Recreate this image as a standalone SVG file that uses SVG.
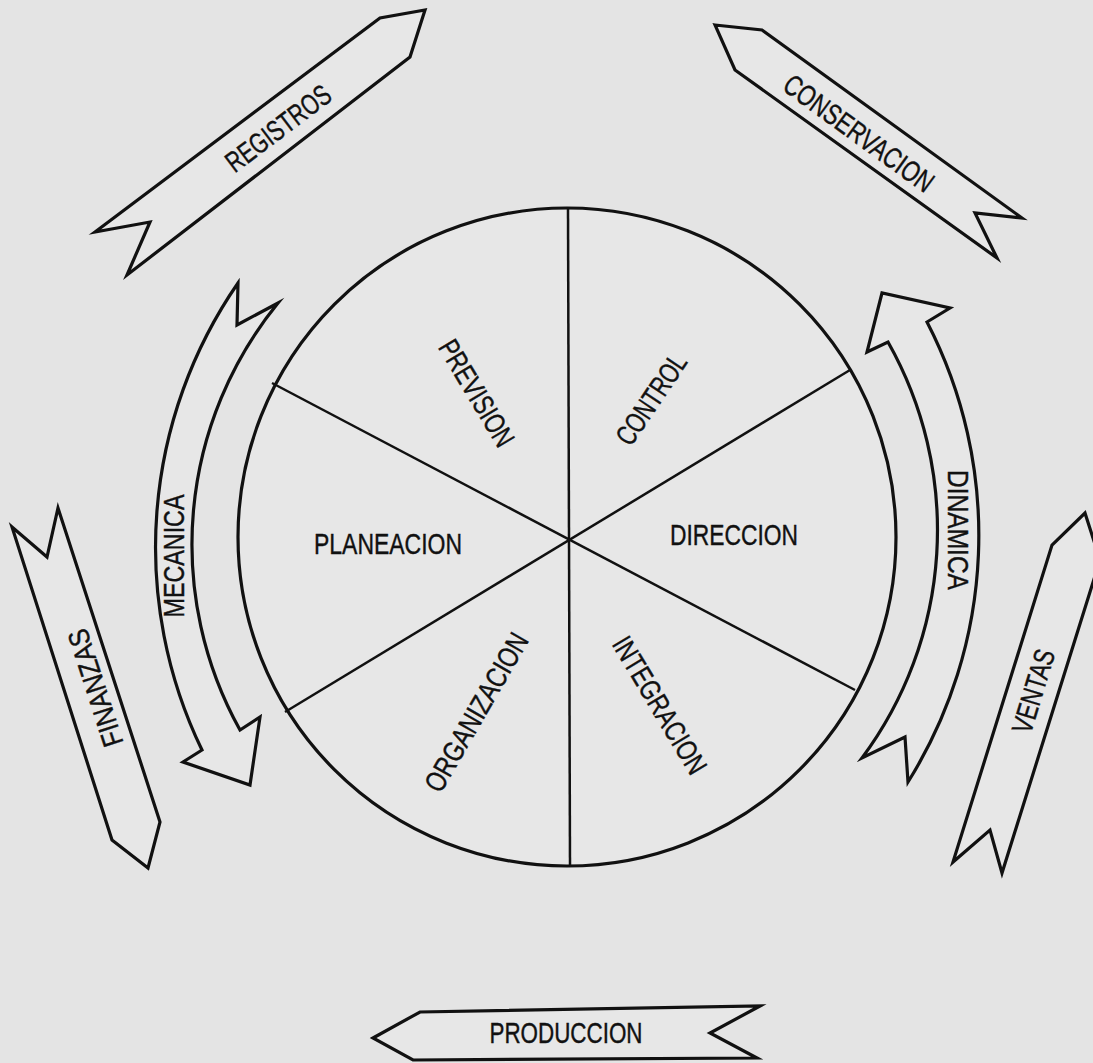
<svg xmlns="http://www.w3.org/2000/svg" width="1093" height="1063" viewBox="0 0 1093 1063">
<style>
.bg{fill:#e4e4e4}
.shape{fill:#e7e7e7;stroke:#111;stroke-width:3.2;stroke-linejoin:miter;stroke-miterlimit:10}
.line{stroke:#111;stroke-width:2.5;fill:none}
.lbl{font-family:"Liberation Sans",Arial,sans-serif;font-size:29px;fill:#111;stroke:#111;stroke-width:0.4;text-anchor:middle}
</style>
<rect class="bg" width="1093" height="1063"/>

<g id="wheel">
  <circle class="shape" cx="567" cy="537" r="329"/>
</g>

<g id="connectors">
  <line class="line" x1="568" y1="208" x2="570" y2="866"/>
  <line class="line" x1="272" y1="383" x2="855" y2="690"/>
  <line class="line" x1="850" y1="370" x2="285" y2="712"/>
</g>

<g id="seg-prevision"><text class="lbl" transform="translate(477,393) rotate(59)" y="10.4" textLength="119" lengthAdjust="spacingAndGlyphs">PREVISION</text></g>
<g id="seg-control"><text class="lbl" transform="translate(651,399) rotate(-56)" y="10.4" textLength="103" lengthAdjust="spacingAndGlyphs">CONTROL</text></g>
<g id="seg-planeacion"><text class="lbl" transform="translate(388,544)" y="10.4" textLength="148" lengthAdjust="spacingAndGlyphs">PLANEACION</text></g>
<g id="seg-direccion"><text class="lbl" transform="translate(734,535)" y="10.4" textLength="128" lengthAdjust="spacingAndGlyphs">DIRECCION</text></g>
<g id="seg-organizacion"><text class="lbl" transform="translate(476,712) rotate(-60)" y="10.4" textLength="178" lengthAdjust="spacingAndGlyphs">ORGANIZACION</text></g>
<g id="seg-integracion"><text class="lbl" transform="translate(660,705) rotate(59)" y="10.4" textLength="155" lengthAdjust="spacingAndGlyphs">INTEGRACION</text></g>

<g id="arrow-mecanica">
  <path class="shape" d="M238,283 L237,325 L278,303 A382,382 0 0 0 240,730 L260,717 L250,785 L183,762 L202,750 A465,465 0 0 1 238,283 Z"/>
  <text class="lbl" transform="translate(174,556) rotate(-90)" y="10.4" textLength="123" lengthAdjust="spacingAndGlyphs">MECANICA</text>
</g>

<g id="arrow-dinamica">
  <path class="shape" d="M927,322 L950,308 L882,293 L867,352 L888,342 A382,382 0 0 1 862,758 L905,737 L908,782 A465,465 0 0 0 927,322 Z"/>
  <text class="lbl" transform="translate(958,530) rotate(90)" y="10.4" textLength="120" lengthAdjust="spacingAndGlyphs">DINAMICA</text>
</g>

<g id="arrow-registros">
  <path class="shape" d="M95,232 L380,18 L425,10 L410,57 L127,275 L150,222 Z"/>
  <text class="lbl" transform="translate(278,128) rotate(-37)" y="10.4" textLength="124" lengthAdjust="spacingAndGlyphs">REGISTROS</text>
</g>

<g id="arrow-conservacion">
  <path class="shape" d="M715,25 L762,30 L1022,218 L975,213 L997,258 L735,70 Z"/>
  <text class="lbl" transform="translate(859,133) rotate(36)" y="10.4" textLength="178" lengthAdjust="spacingAndGlyphs">CONSERVACION</text>
</g>

<g id="arrow-finanzas">
  <path class="shape" d="M12,527 L47,557 L58,508 L160,822 L148,868 L112,840 Z"/>
  <text class="lbl" transform="translate(95,688) rotate(-108)" y="10.4" textLength="122" lengthAdjust="spacingAndGlyphs">FINANZAS</text>
</g>

<g id="arrow-ventas">
  <path class="shape" d="M1085,513 L1100,560 L1002,873 L990,830 L953,862 L1052,545 Z"/>
  <text class="lbl" transform="translate(1033,691) rotate(-73)" y="10.4" textLength="86" lengthAdjust="spacingAndGlyphs">VENTAS</text>
</g>

<g id="arrow-produccion">
  <path class="shape" d="M373,1038 L420,1012 L760,1006 L710,1033 L757,1058 L413,1060 Z"/>
  <text class="lbl" transform="translate(566,1033)" y="10.4" textLength="153" lengthAdjust="spacingAndGlyphs">PRODUCCION</text>
</g>
</svg>
